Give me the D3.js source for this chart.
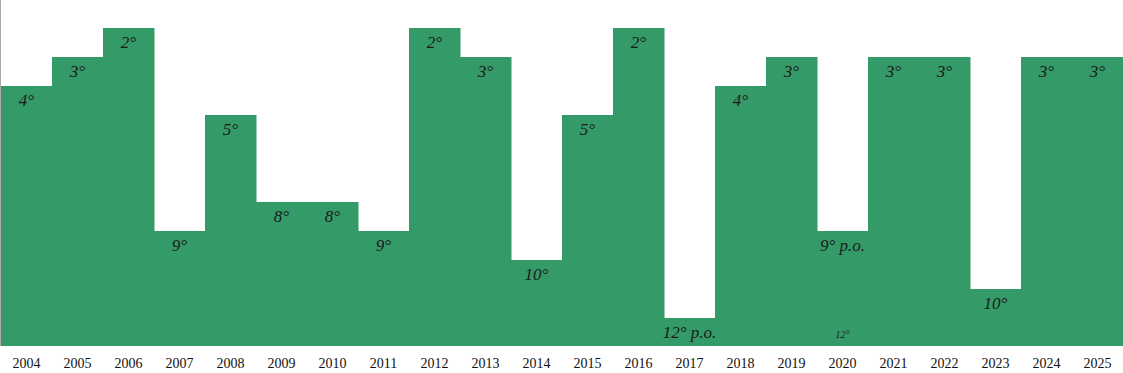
<!DOCTYPE html>
<html>
<head>
<meta charset="utf-8">
<script src="https://cdn.jsdelivr.net/npm/d3@7"></script>
<style>
  body { margin: 0; background: #fff; }
  svg { display: block; }
</style>
</head>
<body>
<svg id="chart" width="1123" height="373"></svg>
<script>
// seasons and league finishing positions (bar height follows the position)
const years = ["2004","2005","2006","2007","2008","2009","2010","2011","2012","2013","2014",
               "2015","2016","2017","2018","2019","2020","2021","2022","2023","2024","2025"];
const positions = [4,3,2,9,5,8,8,9,2,3,10,5,2,12,4,3,9,3,3,11,3,3];
const labels = ["4°","3°","2°","9°","5°","8°","8°","9°","2°","3°","10°",
                "5°","2°","12° p.o.","4°","3°","9° p.o.","3°","3°","10°","3°","3°"];
// small extra note inside a bar
const notes = [{year:"2020", text:"12°"}];

const W = 1123, H = 373;
const bottom = 346;
const svg = d3.select('#chart');

const x = d3.scaleBand().domain(years).range([1, W]).padding(0);
const y = d3.scaleLinear().domain([1, 13]).range([-1, 347]);

const rows = years.map((yr,i) => ({year:yr, pos:positions[i], label:labels[i]}));

// left border
svg.append('line')
  .attr('x1',0.5).attr('x2',0.5).attr('y1',0).attr('y2',bottom)
  .attr('stroke','#aaa').attr('stroke-width',1);

svg.append('g').selectAll('rect').data(rows).enter().append('rect')
  .attr('x', d => x(d.year))
  .attr('y', d => y(d.pos))
  .attr('width', x.bandwidth() + 0.5)
  .attr('height', d => bottom - y(d.pos))
  .attr('fill', '#349a68');

svg.append('g').selectAll('text').data(rows).enter().append('text')
  .attr('x', d => x(d.year) + x.bandwidth()/2)
  .attr('y', d => y(d.pos) + 20)
  .attr('text-anchor','middle')
  .style('font-family','"Liberation Serif", serif')
  .style('font-style','italic')
  .style('font-size','17px')
  .attr('fill','#1a1a1a')
  .text(d => d.label);

svg.append('g').selectAll('text').data(notes).enter().append('text')
  .attr('x', d => x(d.year) + x.bandwidth()/2)
  .attr('y', 338)
  .attr('text-anchor','middle')
  .style('font-family','"Liberation Serif", serif')
  .style('font-style','italic')
  .style('font-size','10px')
  .attr('fill','#1a1a1a')
  .text(d => d.text);

// x axis labels
const axis = svg.append('g')
  .attr('transform', `translate(0,${bottom})`)
  .call(d3.axisBottom(x).tickSize(0).tickPadding(12));
axis.select('.domain').remove();
axis.selectAll('text')
  .style('font-family','"Liberation Serif", serif')
  .style('font-size','14px')
  .attr('fill','#111');
</script>
</body>
</html>
